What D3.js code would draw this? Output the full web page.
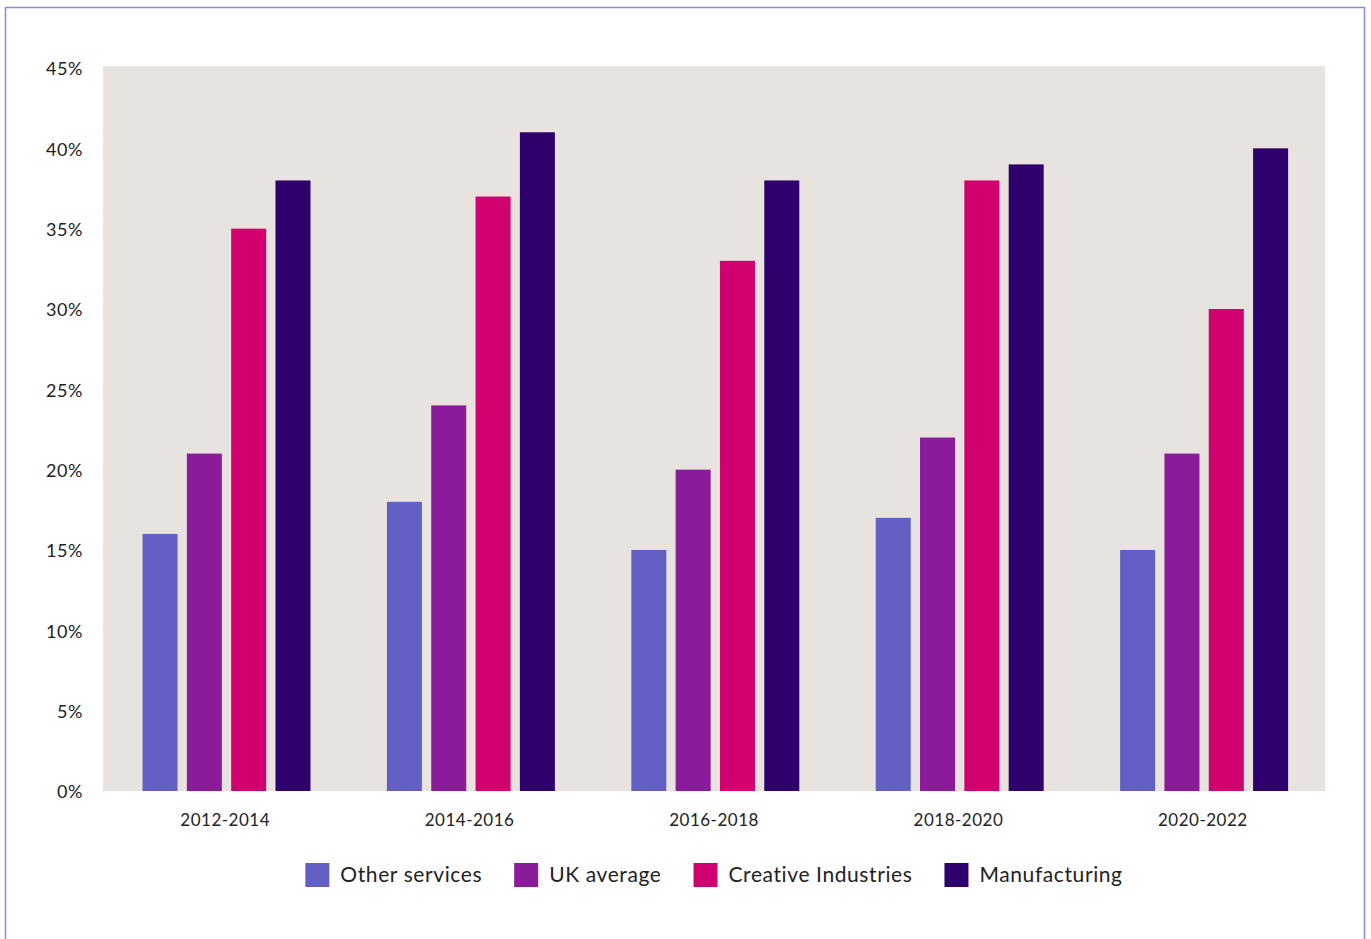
<!DOCTYPE html>
<html>
<head>
<meta charset="utf-8">
<script src="https://cdn.jsdelivr.net/npm/d3@7"></script>
<style>
  body { margin: 0; background: #fff; }
  svg { display: block; font-family: Lato, "Open Sans", sans-serif; }
</style>
</head>
<body>
<div class="chart"></div>
<script>
const periods = ['2012-2014', '2014-2016', '2016-2018', '2018-2020', '2020-2022']
const seriesNames = ['Other services', 'UK average', 'Creative Industries', 'Manufacturing']
const otherServices = [16, 18, 15, 17, 15]
const ukAverage = [21, 24, 20, 22, 21]
const creative = [35, 37, 33, 38, 30]
const manufacturing = [38, 41, 38, 39, 40]
const yTicks = [0, 5, 10, 15, 20, 25, 30, 35, 40, 45]
const colors = ['#6360c5', '#8a1b9b', '#d1006f', '#2e006b']

const values = [otherServices, ukAverage, creative, manufacturing]
const data = periods.map((p, i) => ({
    period: p,
    vals: seriesNames.map((s, j) => ({ key: s, value: values[j][i] }))
}))

const W = 1371, H = 939
const plot = { left: 103, right: 1325, top: 66, bottom: 791 }

const svg = d3.select('.chart').append('svg')
    .attr('width', W)
    .attr('height', H)

// frame
svg.append('rect')
    .attr('x', 5.5).attr('y', 7.5)
    .attr('width', 1359).attr('height', 950)
    .attr('fill', 'none')
    .attr('stroke', '#8f89d9')
    .attr('stroke-width', 1.5)

// plot background
svg.append('rect')
    .attr('x', plot.left).attr('y', plot.top)
    .attr('width', plot.right - plot.left)
    .attr('height', plot.bottom - plot.top)
    .attr('fill', '#e8e3df')

// SCALES
const x0 = d3.scaleBand()
    .domain(periods)
    .range([plot.left, plot.right])

const x1 = d3.scaleBand()
    .domain(seriesNames)
    .range([39.5, 207.5])
    .paddingInner(0.21)
    .paddingOuter(0)

const y = d3.scaleLinear()
    .domain([0, 45])
    .range([plot.bottom, 68])

const color = d3.scaleOrdinal().domain(seriesNames).range(colors)

// BARS
svg.append('g')
    .selectAll('g')
    .data(data)
    .join('g')
    .attr('transform', d => `translate(${x0(d.period)},0)`)
    .selectAll('rect')
    .data(d => d.vals)
    .join('rect')
    .attr('x', d => x1(d.key))
    .attr('width', x1.bandwidth())
    .attr('y', d => y(d.value))
    .attr('height', d => y(0) - y(d.value))
    .attr('fill', d => color(d.key))

// AXES
const yAxis = d3.axisLeft(y)
    .tickValues(yTicks)
    .tickFormat(d => d + '%')
    .tickSize(0)
    .tickPadding(0)

svg.append('g')
    .attr('transform', 'translate(83,1)')
    .call(yAxis)
    .call(g => g.select('.domain').remove())
    .selectAll('text')
    .attr('font-size', 18)
    .attr('letter-spacing', 0.6)
    .attr('font-family', 'Lato, "Open Sans", sans-serif')
    .attr('fill', '#222')

const xAxis = d3.axisBottom(x0)
    .tickSize(0)
    .tickPadding(0)

svg.append('g')
    .attr('transform', `translate(0,${plot.bottom + 23})`)
    .call(xAxis)
    .call(g => g.select('.domain').remove())
    .selectAll('text')
    .attr('font-size', 17)
    .attr('letter-spacing', 0.5)
    .attr('font-family', 'Lato, "Open Sans", sans-serif')
    .attr('fill', '#222')

// LEGEND
const legend = svg.append('g')
const items = legend.selectAll('g')
    .data(seriesNames)
    .join('g')

items.append('rect')
    .attr('width', 24).attr('height', 24)
    .attr('y', -12)
    .attr('fill', d => color(d))

items.append('text')
    .attr('x', 35)
    .attr('dy', '0.35em')
    .attr('font-size', 21)
    .attr('letter-spacing', 0.6)
    .attr('fill', '#222')
    .text(d => d)

let offset = 0
items.each(function () {
    const w = this.querySelector('text').getComputedTextLength()
    d3.select(this).attr('transform', `translate(${offset},0)`)
    offset += 35 + w + 32
})
const totalW = offset - 32
legend.attr('transform', `translate(${(plot.left + plot.right) / 2 - totalW / 2},875)`)
</script>
</body>
</html>
